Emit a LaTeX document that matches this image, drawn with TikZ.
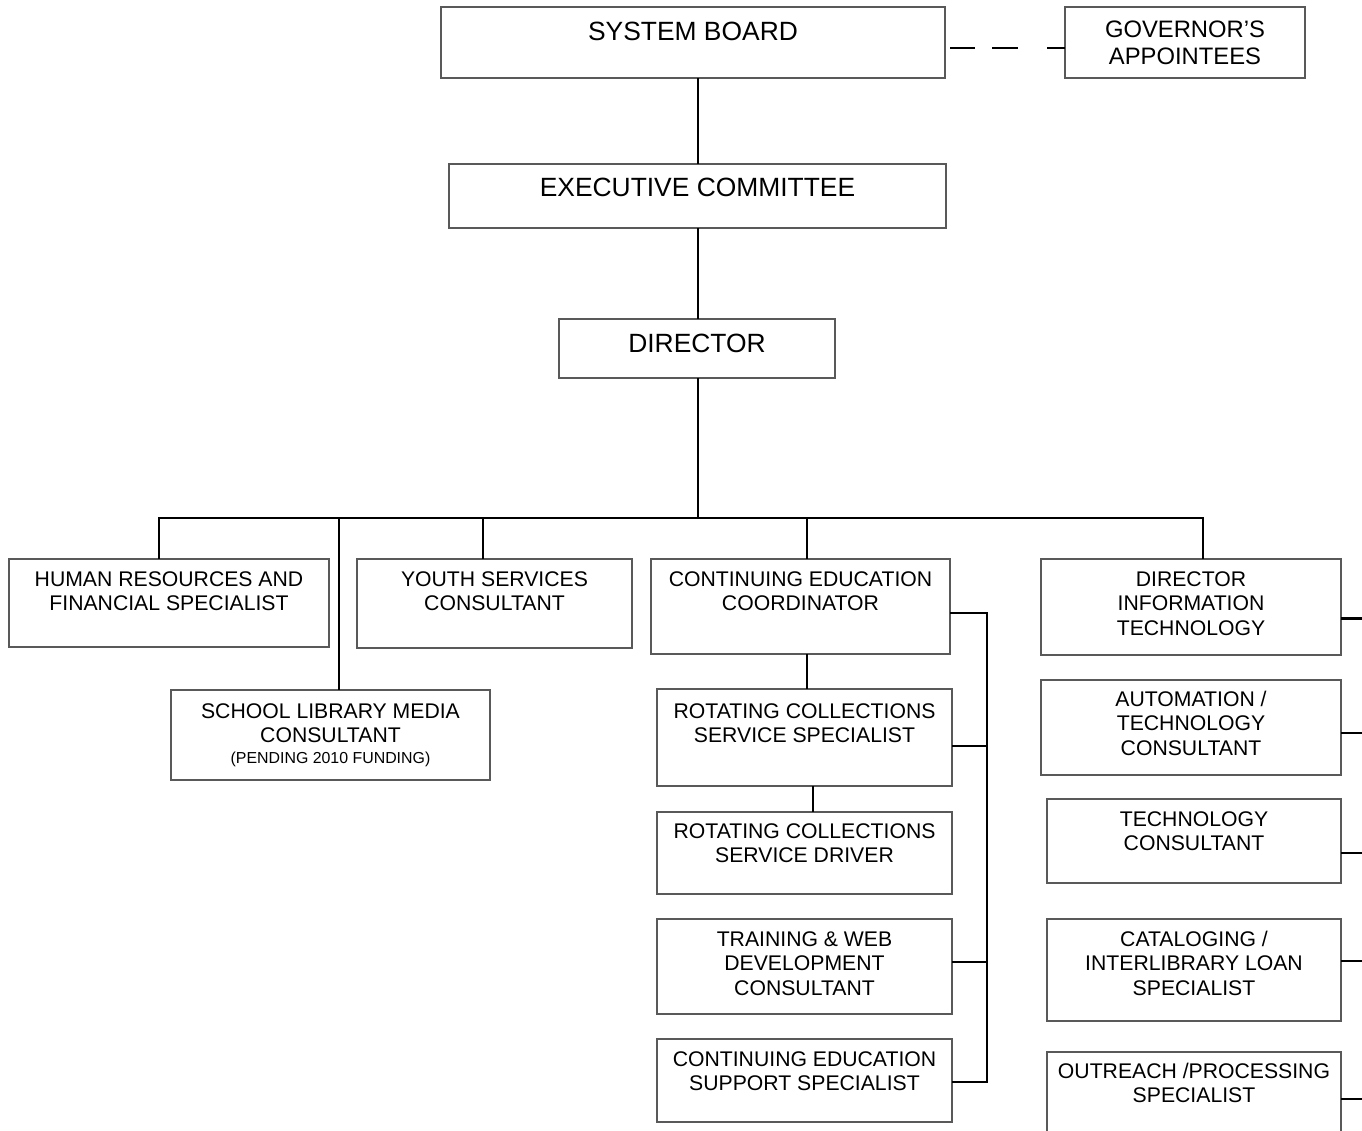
\documentclass[tikz,border=0pt]{standalone}
\usepackage{fontspec}
\setmainfont{Liberation Sans}
\setlength{\tabcolsep}{0pt}
\begin{document}
\begin{tikzpicture}[x=1pt,y=-1pt,
  box/.style={draw=black!65, line width=1.3pt, fill=white, inner sep=0pt, outer sep=0pt},
  txt/.style={inner sep=0pt, outer sep=0pt, anchor=base},
  bigf/.style={font=\fontsize{26.4}{30.4}\selectfont},
  midf/.style={font=\fontsize{23.8}{27.4}\selectfont},
  normf/.style={font=\fontsize{21.2}{24.4}\selectfont},
  conn/.style={line width=2.8pt, black},
  dashconn/.style={line width=2pt, black, dash pattern=on 0pt off 5pt on 25pt off 17pt on 26pt off 29pt on 20pt}]
\useasboundingbox (0,0) rectangle (1362,1130);
\clip (0,0) rectangle (1362,1130);
\fill[white] (0,0) rectangle (1362,1130);

% boxes
\node[box, minimum width=504, minimum height=71] (sb) at (693,42.5) {};
\node[box, minimum width=240, minimum height=71] (gov) at (1185,42.5) {};
\node[box, minimum width=497, minimum height=64] (ec) at (697.5,196) {};
\node[box, minimum width=276, minimum height=59] (dir) at (697,348.5) {};
\node[box, minimum width=320, minimum height=88] (hr) at (169,603) {};
\node[box, minimum width=275, minimum height=89] (ys) at (494.5,603.5) {};
\node[box, minimum width=299, minimum height=95] (ce) at (800.5,606.5) {};
\node[box, minimum width=300, minimum height=96] (dit) at (1191,607) {};
\node[box, minimum width=319, minimum height=90] (slm) at (330.5,735) {};
\node[box, minimum width=295, minimum height=97] (rcss) at (804.5,737.5) {};
\node[box, minimum width=295, minimum height=82] (rcsd) at (804.5,853) {};
\node[box, minimum width=295, minimum height=95] (tw) at (804.5,966.5) {};
\node[box, minimum width=295, minimum height=83] (ces) at (804.5,1080.5) {};
\node[box, minimum width=300, minimum height=95] (auto) at (1191,727.5) {};
\node[box, minimum width=294, minimum height=84] (tech) at (1194,841) {};
\node[box, minimum width=294, minimum height=102] (cat) at (1194,970) {};
\node[box, minimum width=294, minimum height=98] (out) at (1194,1101) {};

% texts
\node[txt, bigf] (sbt) at (693,40) {SYSTEM BOARD};
\node[txt, midf] (govt) at (1185,37) {\begin{tabular}[t]{c}GOVERNOR’S\\APPOINTEES\end{tabular}};
\node[txt, bigf] (ect) at (697.5,196) {EXECUTIVE COMMITTEE};
\node[txt, bigf] (dirt) at (697,352) {DIRECTOR};
\node[txt, normf] (hrt) at (169,586.3) {\begin{tabular}[t]{c}HUMAN RESOURCES AND\\FINANCIAL SPECIALIST\end{tabular}};
\node[txt, normf] (yst) at (494.5,586.3) {\begin{tabular}[t]{c}YOUTH SERVICES\\CONSULTANT\end{tabular}};
\node[txt, normf] (cet) at (800.5,586.3) {\begin{tabular}[t]{c}CONTINUING EDUCATION\\COORDINATOR\end{tabular}};
\node[txt, normf] (ditt) at (1191,586.3) {\begin{tabular}[t]{c}DIRECTOR\\INFORMATION\\TECHNOLOGY\end{tabular}};
\node[txt, normf] (slmt) at (330.5,718.3) {\begin{tabular}[t]{c}SCHOOL LIBRARY MEDIA\\CONSULTANT\\[-4pt]{\fontsize{15.9}{18.3}\selectfont (PENDING 2010 FUNDING)}\end{tabular}};
\node[txt, normf] (rcsst) at (804.5,718.3) {\begin{tabular}[t]{c}ROTATING COLLECTIONS\\SERVICE SPECIALIST\end{tabular}};
\node[txt, normf] (rcsdt) at (804.5,838.3) {\begin{tabular}[t]{c}ROTATING COLLECTIONS\\SERVICE DRIVER\end{tabular}};
\node[txt, normf] (twt) at (804.5,946.3) {\begin{tabular}[t]{c}TRAINING \& WEB\\DEVELOPMENT\\CONSULTANT\end{tabular}};
\node[txt, normf] (cest) at (804.5,1066.3) {\begin{tabular}[t]{c}CONTINUING EDUCATION\\SUPPORT SPECIALIST\end{tabular}};
\node[txt, normf] (autot) at (1191,706.3) {\begin{tabular}[t]{c}AUTOMATION /\\TECHNOLOGY\\CONSULTANT\end{tabular}};
\node[txt, normf] (techt) at (1194,826.3) {\begin{tabular}[t]{c}TECHNOLOGY\\CONSULTANT\end{tabular}};
\node[txt, normf] (catt) at (1194,946.3) {\begin{tabular}[t]{c}CATALOGING /\\INTERLIBRARY LOAN\\SPECIALIST\end{tabular}};
\node[txt, normf] (outt) at (1194,1078.3) {\begin{tabular}[t]{c}OUTREACH /PROCESSING\\SPECIALIST\end{tabular}};

% coordinates
\coordinate (spine) at (698,0);
\coordinate (busL) at (159,518);
\coordinate (busR) at (1203,518);
\coordinate (busS) at (339,518);
\coordinate (busY) at (483,518);
\coordinate (busC) at (807,518);
\coordinate (rbT) at (987,613);
\coordinate (rbB) at (987,1082);

% connectors
\draw[dashconn] ([yshift=-5.5pt]sb.east) -- ([yshift=-5.5pt]sb.east -| gov.west);
\draw[conn] (sb.south -| spine) -- (ec.north -| spine);
\draw[conn] (ec.south -| spine) -- (dir.north -| spine);
\draw[conn] (dir.south -| spine) -- (busL -| spine);
\draw[conn, line cap=rect] (busL) -- (busR);
\draw[conn] (busL) -- (hr.north -| busL);
\draw[conn] (busS) -- (slm.north -| busS);
\draw[conn] (busY) -- (ys.north -| busY);
\draw[conn] (busC) -- (ce.north -| busC);
\draw[conn] (busR) -- (dit.north -| busR);
\draw[conn] (ce.south -| busC) -- (rcss.north -| busC);
\draw[conn] ([xshift=8.5pt]rcss.south) -- ([xshift=8.5pt]rcsd.north);
\draw[conn, line join=miter] (ce.east |- rbT) -- (rbT) -- (rbB) -- (ces.east |- rbB);
\draw[conn] ([yshift=-8.5pt]rcss.east) -- ([yshift=-8.5pt]rcss.east -| rbT);
\draw[conn] ([yshift=4.5pt]tw.east) -- ([yshift=4.5pt]tw.east -| rbT);
\draw[conn] ([yshift=-11.5pt]dit.east) -- ++(30,0);
\draw[conn] ([yshift=-5.5pt]auto.east) -- ++(30,0);
\draw[conn] ([yshift=-12pt]tech.east) -- ++(30,0);
\draw[conn] ([yshift=9pt]cat.east) -- ++(30,0);
\draw[conn] ([yshift=2pt]out.east) -- ++(30,0);
\end{tikzpicture}
\end{document}
